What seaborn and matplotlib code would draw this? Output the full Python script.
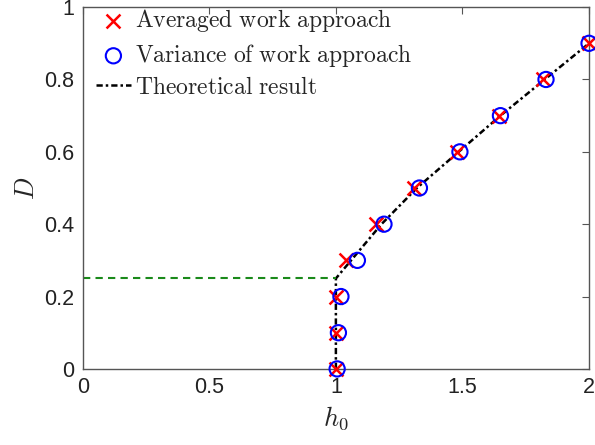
import numpy as np
import pandas as pd
import matplotlib
matplotlib.use('Agg')
import matplotlib.pyplot as plt
import seaborn as sns

# data
D_vals = [0.0, 0.1, 0.2, 0.3, 0.4, 0.5, 0.6, 0.7, 0.8, 0.9]
h0_avg = [1.0, 1.0, 1.0, 1.04, 1.16, 1.31, 1.48, 1.645, 1.82, 2.0]
h0_var = [1.005, 1.01, 1.02, 1.085, 1.19, 1.33, 1.49, 1.65, 1.83, 2.0]

theory_h0 = [1.0, 1.0, 1.06, 1.18, 1.32, 1.485, 1.65, 1.825, 2.0]
theory_D = [0.0, 0.25, 0.3, 0.4, 0.5, 0.6, 0.7, 0.8, 0.9]

crit_h0 = [0.0, 1.0]
crit_D = [0.25, 0.25]

sns.set_style('white')
plt.rcParams['font.family'] = ['Liberation Sans', 'DejaVu Sans']
plt.rcParams['mathtext.fontset'] = 'cm'

fig, ax = plt.subplots(figsize=(5.95, 4.45), dpi=100)
fig.subplots_adjust(left=0.139, right=0.99, bottom=0.171, top=0.984)

df_avg = pd.DataFrame({'h0': h0_avg, 'D': D_vals})
df_var = pd.DataFrame({'h0': h0_var, 'D': D_vals})

sns.scatterplot(data=df_avg, x='h0', y='D', ax=ax, marker='x', color='red', s=100,
                linewidth=1.8, label=r'$\mathrm{Averaged\ work\ approach}$', zorder=3, clip_on=False)
sns.scatterplot(data=df_var, x='h0', y='D', ax=ax, marker='o', facecolor='none', edgecolor='blue',
                s=120, linewidth=1.5, label=r'$\mathrm{Variance\ of\ work\ approach}$', zorder=4, clip_on=False)
ax.plot(theory_h0, theory_D, color='black', linestyle=(0, (2.5, 1.2, 1, 1.2)), linewidth=1.8,
        label=r'$\mathrm{Theoretical\ result}$', zorder=2)
ax.plot(crit_h0, crit_D, color='#1a8a1a', linestyle=(0, (3.5, 2.5)), linewidth=1.5, zorder=2)

ax.set_xlim(0, 2)
ax.set_ylim(0, 1)
ax.set_xticks([0, 0.5, 1, 1.5, 2])
ax.set_xticklabels(['0', '0.5', '1', '1.5', '2'])
ax.set_yticks([0, 0.2, 0.4, 0.6, 0.8, 1])
ax.set_yticklabels(['0', '0.2', '0.4', '0.6', '0.8', '1'])
ax.tick_params(direction='in', length=5, labelsize=15.5, top=True, right=True,
               color='#555555', labelcolor='#222222', pad=6)
for sp in ax.spines.values():
    sp.set_color('#555555')
    sp.set_linewidth(1.0)

ax.set_xlabel(r'$h_0$', fontsize=19)
ax.set_ylabel(r'$D$', fontsize=19)

leg = ax.legend(loc='upper left', bbox_to_anchor=(0.0, 1.035), frameon=False, fontsize=17,
                handlelength=1.5, handletextpad=0.15, borderaxespad=0.15, labelspacing=0.32)

plt.savefig('out.png', dpi=100)
